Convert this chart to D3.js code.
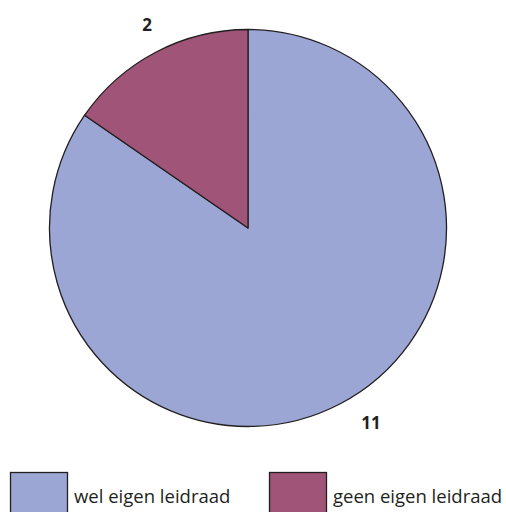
<!DOCTYPE html>
<html>
<head>
<meta charset="utf-8">
<script src="https://cdn.jsdelivr.net/npm/d3@7"></script>
<style>
  body { margin: 0; background: #fff; }
  svg { display: block; }
</style>
</head>
<body>
<svg id="chart" width="506" height="512"></svg>
<script>
// data
const categories = ["wel eigen leidraad", "geen eigen leidraad"];
const values = [11, 2];
const colors = ["#9ba6d4", "#9f5478"];

const width = 506, height = 512;
const cx = 248, cy = 228, radius = 198.5;

const svg = d3.select("#chart");

const data = categories.map((c, i) => ({ name: c, value: values[i] }));

// pie goes clockwise from 12 o'clock, small slice ends at the top
const pie = d3.pie()
    .value(d => d.value)
    .sort(null);

const arcs = pie(data);

const arc = d3.arc()
    .innerRadius(0)
    .outerRadius(radius);

const g = svg.append("g")
    .attr("transform", `translate(${cx},${cy})`);

g.selectAll("path")
    .data(arcs)
    .enter()
    .append("path")
    .attr("d", arc)
    .attr("fill", (d, i) => colors[i])
    .attr("stroke", "#231f20")
    .attr("stroke-width", 1.3)
    .attr("stroke-linejoin", "round");

// value labels: 11 near the lower right, 2 near the top left
const labelXY = [[371, 429], [147, 31]];

g.selectAll("text.val")
    .data(arcs)
    .enter()
    .append("text")
    .attr("class", "val")
    .attr("x", (d, i) => labelXY[i][0] - cx)
    .attr("y", (d, i) => labelXY[i][1] - cy)
    .attr("text-anchor", "middle")
    .attr("font-family", "'Open Sans', sans-serif")
    .attr("font-weight", "bold")
    .attr("font-size", 17)
    .attr("fill", "#231f20")
    .text(d => d.data.value);

// legend
const legend = svg.append("g");
const legendX = [10, 269];

const items = legend.selectAll("g")
    .data(data)
    .enter()
    .append("g")
    .attr("transform", (d, i) => `translate(${legendX[i]},472)`);

items.append("rect")
    .attr("x", 0.5)
    .attr("y", 0.5)
    .attr("width", 57)
    .attr("height", 45)
    .attr("fill", (d, i) => colors[i])
    .attr("stroke", "#231f20")
    .attr("stroke-width", 1.3);

items.append("text")
    .attr("x", 64)
    .attr("y", 31)
    .attr("font-family", "'Open Sans', sans-serif")
    .attr("font-size", 18.5)
    .attr("fill", "#231f20")
    .text(d => d.name);
</script>
</body>
</html>
